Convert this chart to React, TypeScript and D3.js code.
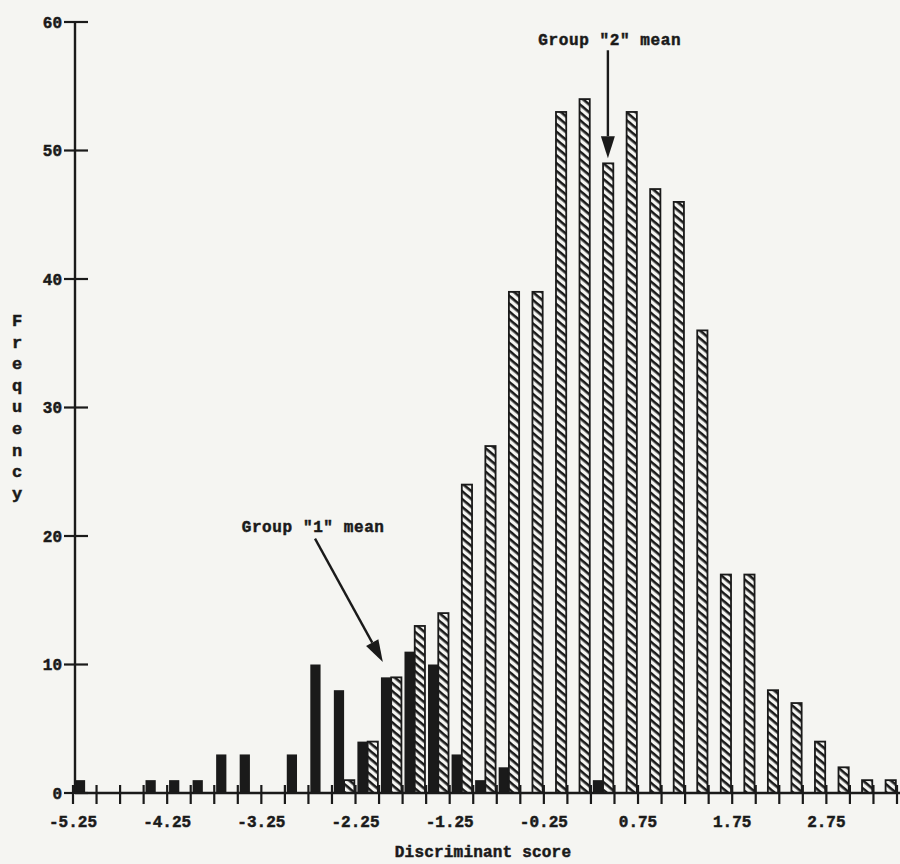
import React from "react";
import * as d3 from "d3";

// discriminant score bins (left edge, width 0.25)
const BIN_LEFT = [
  -5.25, -5.0, -4.75, -4.5, -4.25, -4.0, -3.75, -3.5, -3.25, -3.0, -2.75, -2.5,
  -2.25, -2.0, -1.75, -1.5, -1.25, -1.0, -0.75, -0.5, -0.25, 0.0, 0.25, 0.5,
  0.75, 1.0, 1.25, 1.5, 1.75, 2.0, 2.25, 2.5, 2.75, 3.0, 3.25,
];
const GROUP1 = [
  1, 0, 0, 1, 1, 1, 3, 3, 0, 3, 10, 8, 4, 9, 11, 10, 3, 1, 2, 0, 0, 0, 1, 0, 0,
  0, 0, 0, 0, 0, 0, 0, 0, 0, 0,
];
const GROUP2 = [
  0, 0, 0, 0, 0, 0, 0, 0, 0, 0, 0, 1, 4, 9, 13, 14, 24, 27, 39, 39, 53, 54, 49,
  53, 47, 46, 36, 17, 17, 8, 7, 4, 2, 1, 1,
];
const BIN_WIDTH = 0.25;
const X_LABELS = [-5.25, -4.25, -3.25, -2.25, -1.25, -0.25, 0.75, 1.75, 2.75];
const Y_TICKS = [0, 10, 20, 30, 40, 50, 60];

const ANNOTATIONS = [
  { text: 'Group "2" mean', tx: 0.45, ty: 58.2, from: [0.43, 57.8], to: [0.43, 49.4] },
  { text: 'Group "1" mean', tx: -2.7, ty: 20.3, from: [-2.68, 19.8], to: [-1.96, 10.2] },
];

const W = 900;
const H = 864;
const FONT = "'Liberation Mono', 'DejaVu Sans Mono', monospace";
const INK = "#1a1a1a";
const PAPER = "#f5f5f2";

const x = d3.scaleLinear().domain([-5.25, 3.5]).range([73, 897]);
const y = d3.scaleLinear().domain([0, 60]).range([793, 22]);
const inner = d3.scaleBand().domain(["g1", "g2"]).range([0.08, 0.95]);

function Arrow({ a }: { a: (typeof ANNOTATIONS)[number] }) {
  const x1 = x(a.from[0]);
  const y1 = y(a.from[1]);
  const x2 = x(a.to[0]);
  const y2 = y(a.to[1]);
  const ang = Math.atan2(y2 - y1, x2 - x1);
  const len = 22;
  const half = 7;
  const bx = x2 - len * Math.cos(ang);
  const by = y2 - len * Math.sin(ang);
  const px = -Math.sin(ang) * half;
  const py = Math.cos(ang) * half;
  return (
    <g>
      <line x1={x1} y1={y1} x2={bx} y2={by} stroke={INK} strokeWidth={2.4} />
      <path
        d={`M${x2},${y2}L${bx + px},${by + py}L${bx - px},${by - py}Z`}
        fill={INK}
      />
    </g>
  );
}

export default function App() {
  const xTicks = d3.range(0, 36).map((i) => -5.25 + i * BIN_WIDTH);
  const binPx = (v: number) => x(v + BIN_WIDTH) - x(v);

  return (
    <svg
      width={W}
      height={H}
      style={{ position: "absolute", left: 0, top: 0, background: PAPER }}
      fontFamily={FONT}
      fontWeight="bold"
    >
      <defs>
        <pattern
          id="hatch"
          patternUnits="userSpaceOnUse"
          width={6}
          height={6}
          patternTransform="rotate(40)"
        >
          <rect width={6} height={6} fill={PAPER} />
          <rect y={0} width={6} height={2.6} fill={INK} />
        </pattern>
      </defs>

      {/* bars */}
      {BIN_LEFT.map((b, i) => {
        const w = binPx(b);
        const x0 = x(b);
        const g1 = GROUP1[i];
        const g2 = GROUP2[i];
        return (
          <g key={i}>
            {g1 > 0 && (
              <rect
                x={x0 + inner("g1")! * w}
                y={y(g1)}
                width={inner.bandwidth() * w}
                height={y(0) - y(g1)}
                fill={INK}
              />
            )}
            {g2 > 0 && (
              <rect
                x={x0 + inner("g2")! * w}
                y={y(g2)}
                width={inner.bandwidth() * w}
                height={y(0) - y(g2)}
                fill="url(#hatch)"
                stroke={INK}
                strokeWidth={1.8}
              />
            )}
          </g>
        );
      })}

      <g fill={INK} stroke={INK} strokeWidth={0.5}>
        {/* y axis */}
        <line x1={75} x2={75} y1={y(60)} y2={y(0)} strokeWidth={2.4} />
        {Y_TICKS.map((t) => (
          <g key={t} transform={`translate(0,${y(t)})`}>
            <line x1={64} x2={88} strokeWidth={2.2} />
            <text x={62} dy="0.35em" textAnchor="end" fontSize={16}>
              {t}
            </text>
          </g>
        ))}

        {/* x axis */}
        <line x1={75} x2={W} y1={y(0)} y2={y(0)} strokeWidth={2.4} />
        {xTicks.map((t) => (
          <line
            key={t}
            x1={x(t)}
            x2={x(t)}
            y1={y(0) - 8}
            y2={y(0) + 11}
            strokeWidth={2.2}
          />
        ))}
        {X_LABELS.map((t) => (
          <text key={t} x={x(t)} y={827} textAnchor="middle" fontSize={16}>
            {t.toFixed(2)}
          </text>
        ))}

        <text x={483} y={857} textAnchor="middle" fontSize={16} letterSpacing={0.2}>
          Discriminant score
        </text>

        {"Frequency".split("").map((c, i) => (
          <text key={i} x={17} y={326 + i * 21.6} textAnchor="middle" fontSize={17}>
            {c}
          </text>
        ))}

        {/* annotations */}
        {ANNOTATIONS.map((a) => (
          <text
            key={a.text}
            x={x(a.tx)}
            y={y(a.ty)}
            textAnchor="middle"
            fontSize={16}
            letterSpacing={0.6}
          >
            {a.text}
          </text>
        ))}
      </g>
      {ANNOTATIONS.map((a) => (
        <Arrow key={a.text} a={a} />
      ))}
    </svg>
  );
}
